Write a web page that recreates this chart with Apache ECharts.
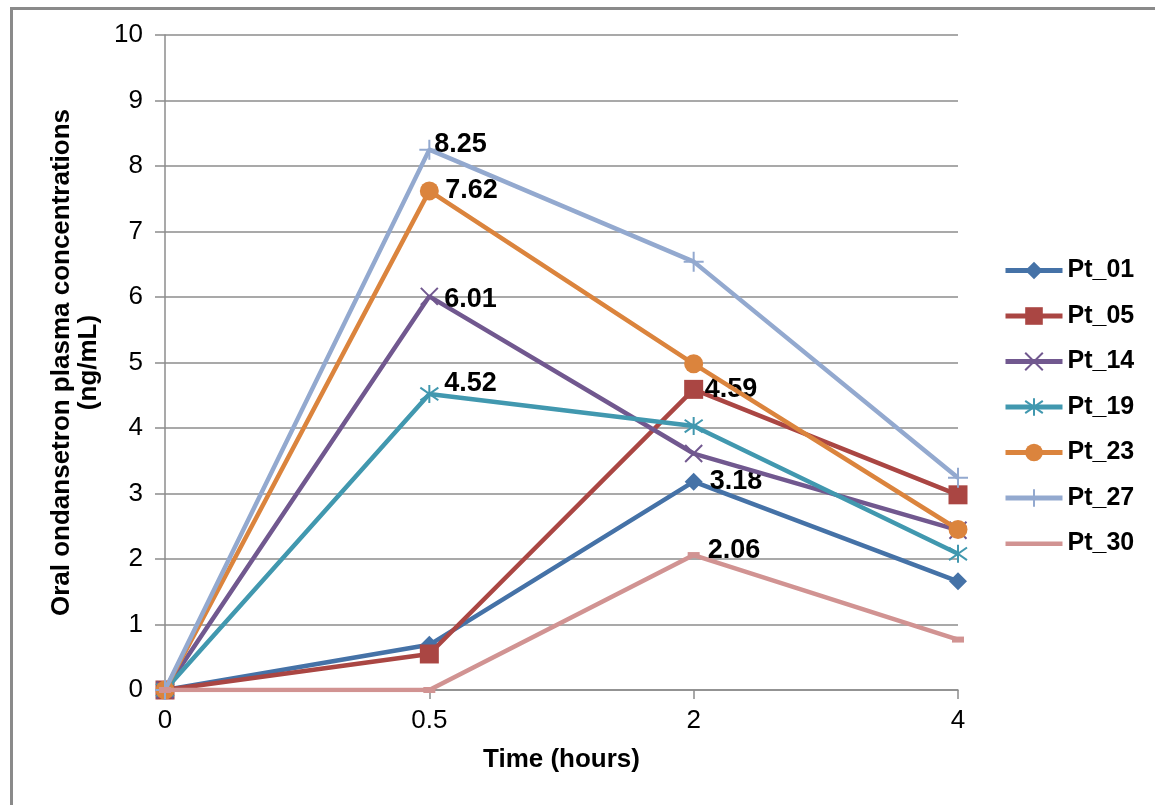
<!DOCTYPE html>
<html>
<head>
<meta charset="utf-8">
<script src="https://cdn.jsdelivr.net/npm/echarts@6/dist/echarts.min.js"></script>
<style>html,body{margin:0;padding:0;background:#fff;}#c{width:1155px;height:805px;}</style>
</head>
<body>
<div id="c"></div>
<script>
const categories = ['0', '0.5', '2', '4'];
const seriesNames = ['Pt_01', 'Pt_05', 'Pt_14', 'Pt_19', 'Pt_23', 'Pt_27', 'Pt_30'];
const pt01 = [0, 0.69, 3.18, 1.66];
const pt05 = [0, 0.55, 4.59, 2.98];
const pt14 = [0, 6.01, 3.61, 2.44];
const pt19 = [0, 4.52, 4.03, 2.08];
const pt23 = [0, 7.62, 4.98, 2.45];
const pt27 = [0, 8.25, 6.54, 3.24];
const pt30 = [0, 0, 2.06, 0.77];
// index of the point that carries a value label, per series
const labelIndex = [2, 2, 1, 1, 1, 1, 2];
const yTicks = [0, 1, 2, 3, 4, 5, 6, 7, 8, 9, 10];

const values = [pt01, pt05, pt14, pt19, pt23, pt27, pt30];
const colors = ['#4572A7', '#AA4643', '#71588F', '#4198AF', '#DB843D', '#93A9CF', '#D19392'];
const symbols = [
  'diamond',
  'rect',
  'path://M0,0L10,10M10,0L0,10',
  'path://M5,0L5,10M0,1.5L10,8.5M10,1.5L0,8.5',
  'circle',
  'path://M5,0L5,10M0,5L10,5',
  'rect'
];
const symbolSizes = [18, 19, 17, 18, 19, 20, [12, 6]];
const strokeSymbol = [false, false, true, true, false, true, false];
const labelOffsets = [[7, 0], [1.5, 0], [5.5, 3], [5, -10], [6.5, 0], [-6, -5], [8, -5]];

const chart = echarts.init(document.getElementById('c'));
const series = seriesNames.map((name, i) => ({
  name: name,
  type: 'line',
  data: values[i].map((v, j) => j === labelIndex[i] ? {
    value: v,
    label: { show: true, position: 'right', distance: 0, offset: labelOffsets[i],
      formatter: (p) => p.value.toFixed(2),
      color: '#000', fontWeight: 'bold', fontSize: 27, fontFamily: 'Liberation Sans, Arial' }
  } : v),
  symbol: symbols[i],
  symbolSize: symbolSizes[i],
  showAllSymbol: true,
  lineStyle: { color: colors[i], width: 4.5 },
  itemStyle: strokeSymbol[i]
    ? { color: colors[i], borderColor: colors[i], borderWidth: 2 }
    : { color: colors[i], borderWidth: 0 },
  emphasis: { disabled: true },
  z: 2 + i
}));

const legendData = seriesNames.map((n, i) => i === 6
  ? { name: n, icon: 'path://M0,9h57v4.5h-57z M0,0h0.01v0.01z M0,22h0.01v0.01z' }
  : { name: n });

chart.setOption({
  animation: false,
  backgroundColor: '#fff',
  textStyle: { fontFamily: 'Liberation Sans, Arial' },
  graphic: [{
    type: 'rect', left: 9, top: 6, z: -10,
    shape: { width: 1200, height: 900 },
    style: { fill: 'none', stroke: '#8a8a8a', lineWidth: 3 }
  }],
  grid: { left: 165, right: 197, top: 35, bottom: 115, containLabel: false },
  legend: {
    orient: 'vertical',
    left: 998,
    top: 253,
    itemWidth: 57,
    itemHeight: 22,
    itemGap: 20.5,
    lineStyle: { width: 5 },
    data: legendData,
    textStyle: { fontSize: 25, lineHeight: 25, fontWeight: 'bold', color: '#000', fontFamily: 'Liberation Sans, Arial' }
  },
  xAxis: {
    type: 'category',
    data: categories,
    boundaryGap: false,
    axisLine: { lineStyle: { color: '#8c8c8c', width: 1.5 } },
    axisTick: { show: true, length: 9, lineStyle: { color: '#8c8c8c', width: 1.5 }, alignWithLabel: true },
    axisLabel: { fontSize: 26, color: '#000', margin: 18 },
    name: 'Time (hours)',
    nameLocation: 'middle',
    nameGap: 57,
    nameTextStyle: { fontSize: 26, fontWeight: 'bold', color: '#000' }
  },
  yAxis: {
    type: 'value',
    min: 0, max: 10, interval: 1,
    axisLine: { show: true, lineStyle: { color: '#8c8c8c', width: 1.5 } },
    axisTick: { show: true, length: 10, lineStyle: { color: '#8c8c8c', width: 1.5 } },
    splitLine: { lineStyle: { color: '#8c8c8c', width: 1.5 } },
    axisLabel: { fontSize: 26, color: '#000', margin: 22,
      formatter: (v) => yTicks.indexOf(v) >= 0 ? String(v) : '' },
    name: 'Oral ondansetron plasma concentrations\n(ng/mL)',
    nameLocation: 'middle',
    nameGap: 63,
    nameTextStyle: { fontSize: 26, fontWeight: 'bold', color: '#000', lineHeight: 27 }
  },
  series: series
});
</script>
</body>
</html>
